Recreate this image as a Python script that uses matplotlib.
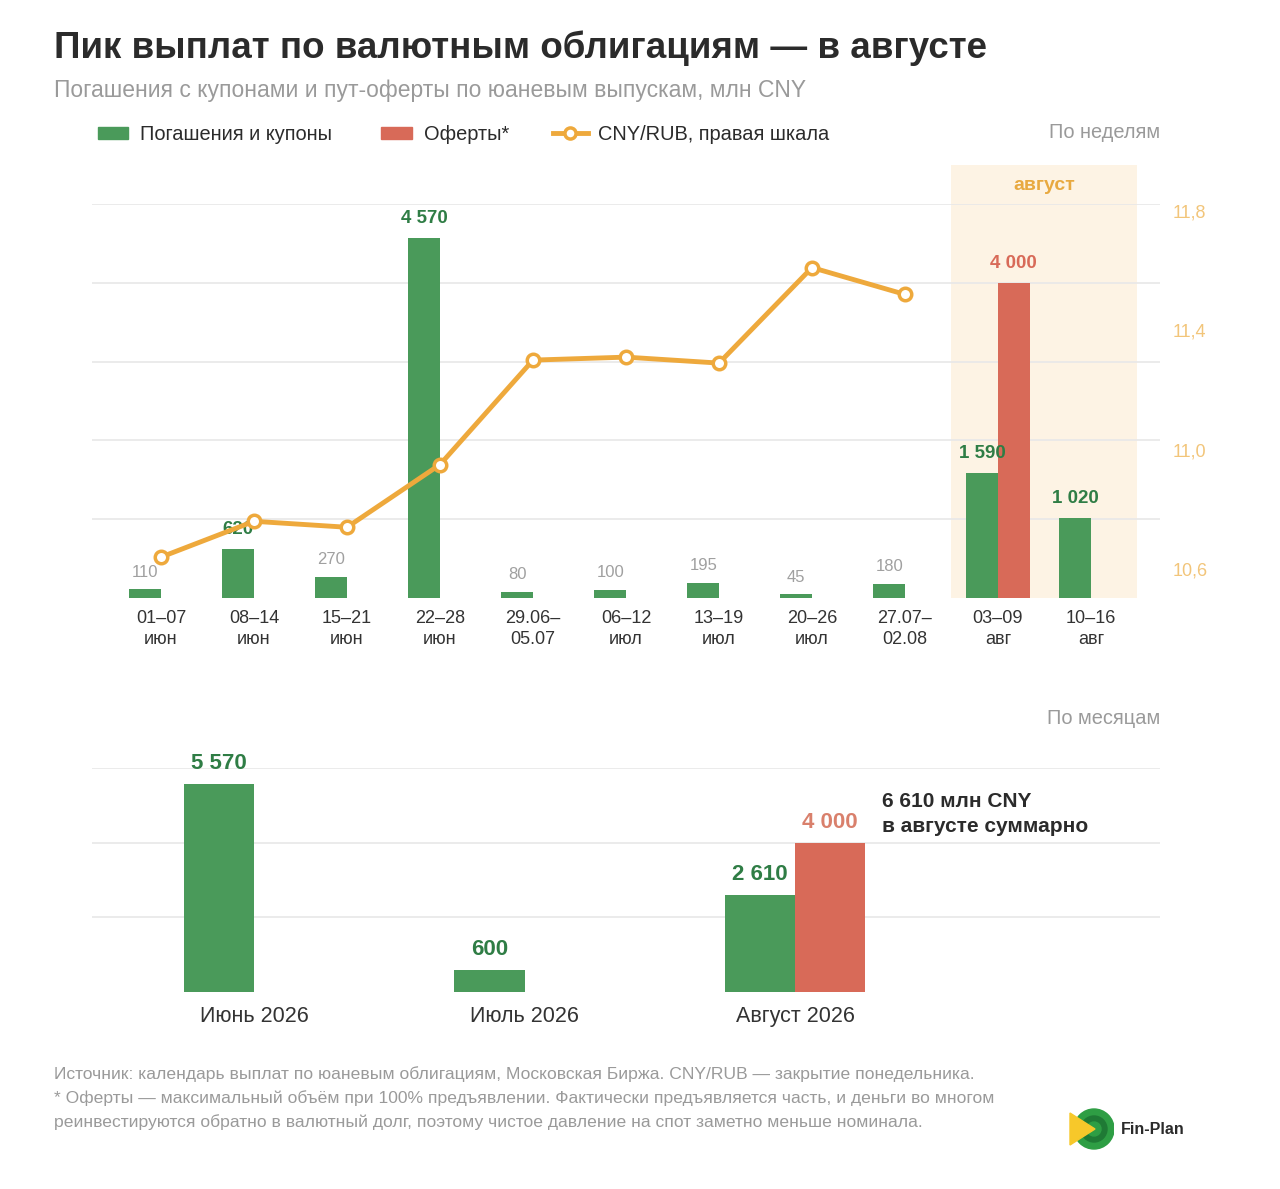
import matplotlib.pyplot as plt
from matplotlib.patches import Rectangle, Circle, Polygon
from matplotlib.lines import Line2D

plt.rcParams['font.family'] = ['Liberation Sans', 'DejaVu Sans']

# --- данные по неделям ---
weeks = ['01–07\nиюн', '08–14\nиюн', '15–21\nиюн', '22–28\nиюн', '29.06–\n05.07',
         '06–12\nиюл', '13–19\nиюл', '20–26\nиюл', '27.07–\n02.08', '03–09\nавг', '10–16\nавг']
pogash = [110, 620, 270, 4570, 80, 100, 195, 45, 180, 1590, 1020]
oferty = [0, 0, 0, 0, 0, 0, 0, 0, 0, 4000, 0]
cnyrub = [10.64, 10.76, 10.74, 10.95, 11.30, 11.31, 11.29, 11.61, 11.52]
right_ticks = [10.6, 11.0, 11.4, 11.8]
right_labels = ['10,6', '11,0', '11,4', '11,8']

# --- данные по месяцам ---
months = ['Июнь 2026', 'Июль 2026', 'Август 2026']
pogash_m = [5570, 600, 2610]
oferty_m = [0, 0, 4000]

GREEN = '#4a9a5a'
GREEN_TXT = '#2f7d45'
RED = '#d86a58'
ORANGE = '#eea93c'
GRID = '#e8e8e8'
DARK = '#2b2b2b'
GRAY = '#9a9a9a'

W, H = 1280, 1189
fig = plt.figure(figsize=(12.8, 11.89), dpi=100)

def fx(x):
    return x / W

def fy(y):
    return 1 - y / H

def fmt(v):
    return f'{v:,}'.replace(',', ' ')

# заголовки
fig.text(fx(54), fy(48), 'Пик выплат по валютным облигациям — в августе',
         fontsize=26.5, fontweight='bold', color=DARK, va='center')
fig.text(fx(54), fy(91), 'Погашения с купонами и пут-оферты по юаневым выпускам, млн CNY',
         fontsize=16.5, color=GRAY, va='center')

# легенда руками
fig.add_artist(Rectangle((fx(98), fy(139)), 30 / W, 12 / H, color=GREEN, transform=fig.transFigure))
fig.text(fx(140), fy(134), 'Погашения и купоны', fontsize=14.4, color=DARK, va='center')
fig.add_artist(Rectangle((fx(381), fy(139)), 31 / W, 12 / H, color=RED, transform=fig.transFigure))
fig.text(fx(424), fy(134), 'Оферты*', fontsize=14.4, color=DARK, va='center')
fig.add_artist(Line2D([fx(553), fx(588)], [fy(133), fy(133)], color=ORANGE, lw=3.5,
                      transform=fig.transFigure))
fig.add_artist(Line2D([fx(570)], [fy(133)], marker='o', ms=8, mfc='white', mec=ORANGE, mew=2.5,
                      transform=fig.transFigure))
fig.text(fx(598), fy(134), 'CNY/RUB, правая шкала', fontsize=14.4, color=DARK, va='center')
fig.text(fx(1160), fy(133), 'По неделям', fontsize=14.4, color=GRAY, va='center', ha='right')

# ===== верхний график =====
ax = fig.add_axes([fx(92), fy(598), (1160 - 92) / W, (598 - 204) / H])
x = list(range(len(weeks)))
bw = 0.34
ax.set_xlim(-0.742, len(weeks) - 1 + 0.742)
ax.set_ylim(0, 5000)

# август
ax.add_patch(Rectangle((8.5, 0), 2.0, 5495, color='#fdf3e4', zorder=0, clip_on=False, lw=0))
ax.text(9.5, 5240, 'август', ha='center', va='center', fontsize=14, fontweight='bold', color='#e8a940')

ax.set_yticks([1000, 2000, 3000, 4000, 5000])
ax.yaxis.grid(True, color=GRID, lw=1.2, zorder=0.5)
ax.set_axisbelow(True)
ax.tick_params(axis='y', length=0, labelleft=False)

gx = [i - bw / 2 for i in x]
rx = [i + bw / 2 for i in x]
ax.bar(gx, pogash, width=bw, color=GREEN, zorder=2)
ax.bar(rx, oferty, width=bw, color=RED, zorder=2)

for i, v in enumerate(pogash):
    if v >= 500:
        ax.annotate(fmt(v), (gx[i], v), xytext=(0, 8), textcoords='offset points', ha='center',
                    va='bottom', fontsize=13.5, fontweight='bold', color=GREEN_TXT, zorder=3)
    else:
        ax.annotate(fmt(v), (gx[i], v), xytext=(0, 7), textcoords='offset points', ha='center',
                    va='bottom', fontsize=12, color='#a0a0a0', zorder=3)
for i, v in enumerate(oferty):
    if v > 0:
        ax.annotate(fmt(v), (rx[i], v), xytext=(0, 8), textcoords='offset points', ha='center',
                    va='bottom', fontsize=13.5, fontweight='bold', color=RED, zorder=3)

ax.set_xticks(x)
ax.set_xticklabels(weeks, fontsize=13, color='#333333', linespacing=1.3)
ax.tick_params(axis='x', length=0, pad=9)
for s in ax.spines.values():
    s.set_visible(False)

ax2 = ax.twinx()
ax2.set_ylim(10.503, 11.823)
ax2.plot(x[:len(cnyrub)], cnyrub, color=ORANGE, lw=3.5, marker='o', ms=9, mfc='white',
         mec=ORANGE, mew=2.5, zorder=5, clip_on=False)
ax2.set_yticks(right_ticks)
ax2.set_yticklabels(right_labels, fontsize=13, color='#f2c57a')
ax2.tick_params(axis='y', length=0, pad=9)
for s in ax2.spines.values():
    s.set_visible(False)

# ===== нижний график =====
fig.text(fx(1160), fy(718), 'По месяцам', fontsize=14.4, color=GRAY, va='center', ha='right')
bx = fig.add_axes([fx(92), fy(992), (1160 - 92) / W, (992 - 768) / H])
mw = 0.26
xm = list(range(len(months)))
bx.set_xlim(-0.6, 3.35)
bx.set_ylim(0, 6000)
bx.set_yticks([2000, 4000, 6000])
bx.yaxis.grid(True, color=GRID, lw=1.2)
bx.set_axisbelow(True)
bx.tick_params(axis='y', length=0, labelleft=False)

mgx = [i - mw / 2 for i in xm]
mrx = [i + mw / 2 for i in xm]
bx.bar(mgx, pogash_m, width=mw, color=GREEN, zorder=2)
bx.bar(mrx, oferty_m, width=mw, color=RED, zorder=2)
for i, v in enumerate(pogash_m):
    bx.annotate(fmt(v), (mgx[i], v), xytext=(0, 7), textcoords='offset points', ha='center',
                va='bottom', fontsize=16, fontweight='bold', color=GREEN_TXT)
for i, v in enumerate(oferty_m):
    if v > 0:
        bx.annotate(fmt(v), (mrx[i], v), xytext=(0, 7), textcoords='offset points', ha='center',
                    va='bottom', fontsize=16, fontweight='bold', color='#d9806c')

bx.set_xticks(xm)
bx.set_xticklabels(months, fontsize=15.5, color='#333333')
bx.tick_params(axis='x', length=0, pad=10)
for s in bx.spines.values():
    s.set_visible(False)

fig.text(fx(882), fy(814), '6 610 млн CNY\nв августе суммарно', fontsize=15, fontweight='bold',
         color=DARK, va='center', linespacing=1.4)

# подвал
foot = ('Источник: календарь выплат по юаневым облигациям, Московская Биржа. CNY/RUB — закрытие понедельника.\n'
        '* Оферты — максимальный объём при 100% предъявлении. Фактически предъявляется часть, и деньги во многом\n'
        'реинвестируются обратно в валютный долг, поэтому чистое давление на спот заметно меньше номинала.')
fig.text(fx(54), fy(1098), foot, fontsize=12.6, color=GRAY, va='center', linespacing=1.65)

# логотип
lg = fig.add_axes([fx(1064), fy(1154), 50 / W, 50 / H])
lg.set_xlim(0, 1)
lg.set_ylim(0, 1)
lg.set_aspect('equal')
lg.axis('off')
lg.add_patch(Circle((0.6, 0.5), 0.40, color='#2e9e44'))
lg.add_patch(Circle((0.6, 0.5), 0.26, color='#1f7a35'))
lg.add_patch(Circle((0.6, 0.5), 0.14, color='#2e9e44'))
lg.add_patch(Polygon([(0.12, 0.82), (0.12, 0.18), (0.62, 0.5)], closed=True, color='#f7c82a'))
fig.text(fx(1121), fy(1129), 'Fin-Plan', fontsize=11.5, fontweight='bold', color=DARK, va='center')

fig.savefig('out.png', dpi=100, facecolor='white')
